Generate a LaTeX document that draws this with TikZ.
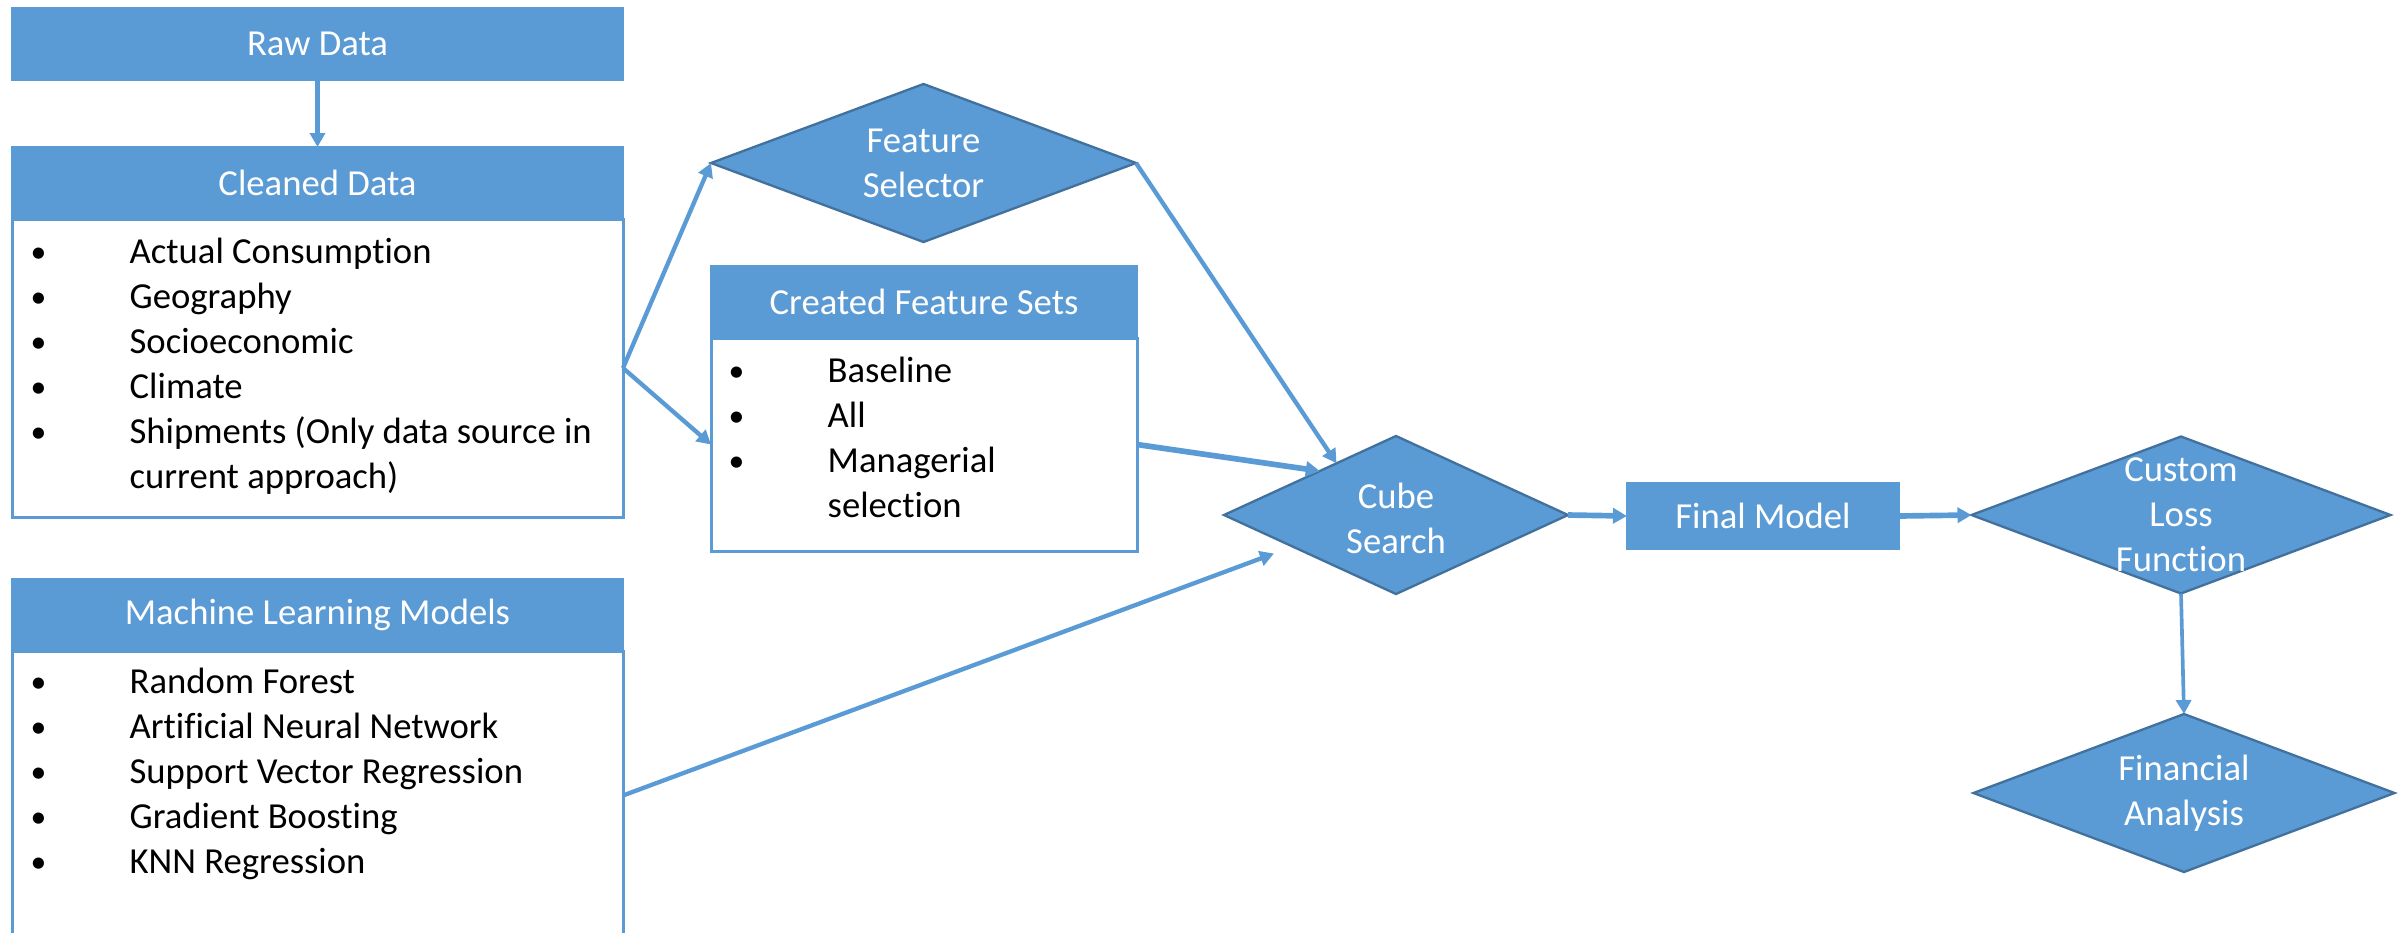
\documentclass[tikz,border=0pt]{standalone}
\usepackage{fontspec}
\setmainfont{Carlito}[Ligatures=NoCommon]
\usetikzlibrary{shapes.geometric,arrows.meta,calc}
\definecolor{accent}{HTML}{5B9BD5}
\definecolor{darkedge}{HTML}{41719C}
\newcommand{\bul}[1]{\hbox to 29.7pt{\raisebox{0.3pt}{\fontsize{9.5}{10}\selectfont\textbullet}\hfil}#1}
\newcommand{\ind}[1]{\hbox to 29.7pt{\hfil}#1}
\begin{document}
\begin{tikzpicture}[x=0.3pt,y=-0.3pt,
  txt/.style={font=\fontsize{11}{13.5}\selectfont},
  hdr/.style={rectangle, fill=accent, draw=accent, line width=0.5pt, text=white, txt, inner sep=0pt, outer sep=0pt, minimum width=183.3pt, minimum height=21.6pt},
  bodybox/.style={rectangle, draw=accent, line width=0.9pt, fill=white, inner sep=0pt, outer sep=0pt, minimum width=183.3pt},
  dia/.style={diamond, fill=accent, draw=darkedge, line width=0.7pt, inner sep=0pt, outer sep=0pt},
  dtext/.style={text=white, align=center, txt, inner sep=0pt},
  listtext/.style={anchor=north west, inner sep=0pt, align=left, txt},
  flow/.style={draw=accent, line width=1.3pt, -{Triangle[length=4.2pt,width=4.5pt]}},
  thickflow/.style={flow, line width=1.7pt}]
\useasboundingbox (0,0) rectangle (2407,932);
\clip (0,0) rectangle (2407,932);

% Raw data
\node[hdr] (raw) at (317.5,44) {Raw Data};

% Cleaned data
\node[bodybox, minimum height=89.4pt] (cdbody) at (317.5,368) {};
\node[hdr] (cdhead) at (317.5,183) {Cleaned Data};
\node[listtext] (cdlist) at (30,231.5) {\strut\bul{Actual Consumption}\\
\bul{Geography}\\
\bul{Socioeconomic}\\
\bul{Climate}\\
\bul{Shipments (Only data source in}\\
\ind{current approach)}};

% Created feature sets
\node[bodybox, minimum width=127.8pt, minimum height=63.9pt] (cfbody) at (924,444.5) {};
\node[hdr, minimum width=127.8pt] (cfhead) at (924,302) {Created Feature Sets};
\node[listtext] (cflist) at (728,350.5) {\strut\bul{Baseline}\\
\bul{All}\\
\bul{Managerial}\\
\ind{selection}};

% Machine learning models
\node[bodybox, minimum height=86.7pt] (mlbody) at (317.5,795.5) {};
\node[hdr] (mlhead) at (317.5,614.5) {Machine Learning Models};
\node[listtext] (mllist) at (30,661.5) {\strut\bul{Random Forest}\\
\bul{Artificial Neural Network}\\
\bul{Support Vector Regression}\\
\bul{Gradient Boosting}\\
\bul{KNN Regression}};

% Diamonds
\node[dia, minimum width=127.5pt, minimum height=47.4pt] (fs) at (923.5,163) {};
\node[dtext] (fstext) at (fs.center) {Feature\\Selector};
\node[dia, minimum width=103.2pt, minimum height=47.4pt] (cube) at (1396,515) {};
\node[dtext] (cubetext) at ([yshift=-1pt]cube.center) {Cube\\Search};
\node[hdr, minimum width=81.6pt, minimum height=19.8pt] (final) at (1763,516) {Final Model};
\node[dia, minimum width=125.7pt, minimum height=47.1pt] (custom) at (2181,515) {};
\node[dtext] (customtext) at (custom.center) {Custom\\Loss\\Function};
\node[dia, minimum width=126.3pt, minimum height=47.4pt] (fin) at (2184,793) {};
\node[dtext] (fintext) at (fin.center) {Financial\\Analysis};

% Connectors
\draw[flow] (raw.south) -- (cdhead.north);
\draw[flow] (cdbody.east) -- (fs.west);
\draw[flow] (cdbody.east) -- (cfbody.west);
\draw[flow] (fs.east) -- (cube.139);
\draw[thickflow] (cfbody.east) -- (cube.150);
\draw[flow, shorten >=6pt] (mlbody.east) -- (cube.197);
\draw[thickflow] (cube.east) -- (final.west);
\draw[thickflow] (final.east) -- (custom.west);
\draw[flow, line width=1.1pt] (custom.south) -- (fin.north);
\end{tikzpicture}
\end{document}
